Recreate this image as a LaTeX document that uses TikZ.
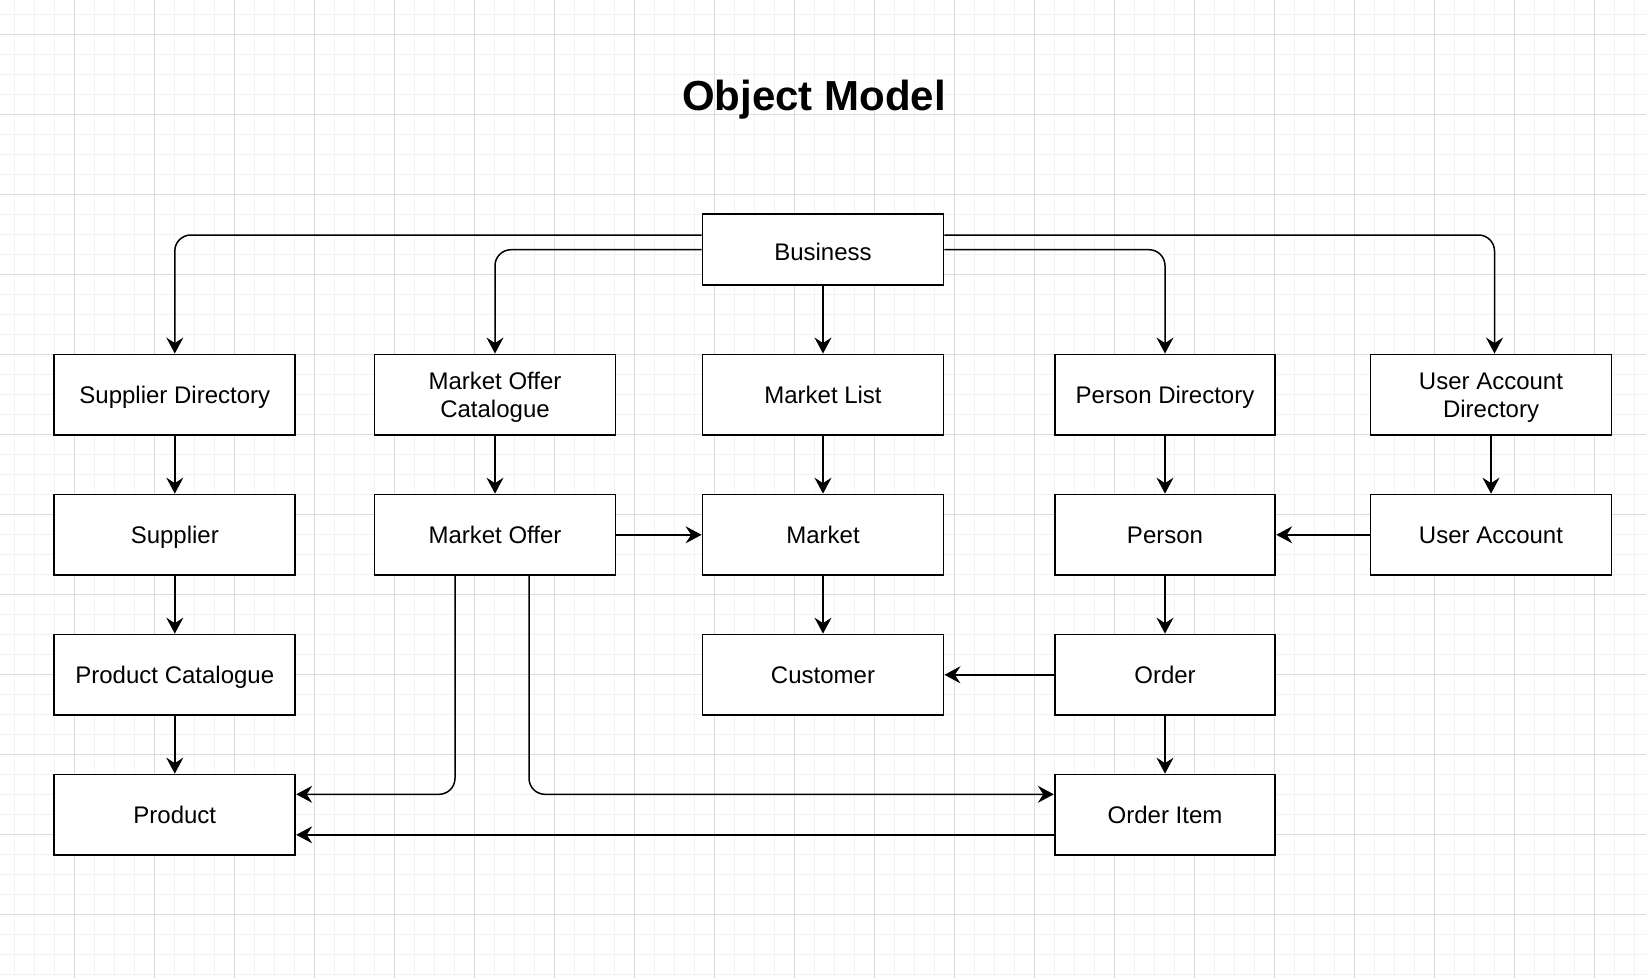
\documentclass[tikz,border=0pt]{standalone}
\usepackage{fontspec}
\setmainfont{Liberation Sans}
\usetikzlibrary{arrows.meta}
\definecolor{gridminor}{HTML}{F2F2F2}
\definecolor{gridmajor}{HTML}{DCDCDC}
\newcommand{\boxline}[1]{\raisebox{0pt}[17.2pt][0pt]{#1}}
\begin{document}
\begin{tikzpicture}[x=1pt,y=-1pt,
  box/.style={draw=black,line width=1.8pt,fill=white,minimum width=241pt,minimum height=80.5pt,inner sep=0pt,align=center,font=\fontsize{24}{28}\selectfont},
  narrowbox/.style={box,minimum width=220.6pt},
  conn/.style={line width=1.5pt,-{Stealth[length=16pt,width=17pt,inset=5.5pt]}},
  elbow/.style={conn,rounded corners=16pt},
  titletext/.style={font=\fontsize{42}{50}\selectfont\bfseries,anchor=base,inner sep=0pt}
]
\fill[white] (0,0) rectangle (1646,978);
\useasboundingbox (0,0) rectangle (1646,978);
% grid
\foreach \i in {0,...,81} \draw[gridminor,line width=1.3pt] (14.3+20*\i,0) -- (14.3+20*\i,978);
\foreach \i in {0,...,48} \draw[gridminor,line width=1.3pt] (0,14.3+20*\i) -- (1646,14.3+20*\i);
\foreach \i in {0,...,19} \draw[gridmajor,line width=1pt] (74.3+80*\i,0) -- (74.3+80*\i,978);
\foreach \i in {0,...,11} \draw[gridmajor,line width=1pt] (0,34.3+80*\i) -- (1646,34.3+80*\i);

% title
\node[titletext] (title) at (814,110.7) {Object Model};

% nodes
\node[box,minimum height=70.7pt] (bus) at (823,249.7) {\raisebox{-2pt}[17.2pt][0pt]{Business}};

\node[box] (sd)  at (174.8,394.7) {\boxline{Supplier Directory}};
\node[box] (moc) at (495,394.7) {\boxline{Market Offer}\\\boxline{Catalogue}};
\node[box] (ml)  at (823,394.7) {\boxline{Market List}};
\node[narrowbox] (pd) at (1165,394.7) {\boxline{Person Directory}};
\node[box] (uad) at (1491,394.7) {\boxline{User Account}\\\boxline{Directory}};

\node[box] (sup) at (174.8,534.8) {\boxline{Supplier}};
\node[box] (mo)  at (495,534.8) {\boxline{Market Offer}};
\node[box] (mkt) at (823,534.8) {\boxline{Market}};
\node[narrowbox] (per) at (1165,534.8) {\boxline{Person}};
\node[box] (ua)  at (1491,534.8) {\boxline{User Account}};

\node[box] (pc)  at (174.8,674.8) {\boxline{Product Catalogue}};
\node[box] (cus) at (823,674.8) {\boxline{Customer}};
\node[narrowbox] (ord) at (1165,674.8) {\boxline{Order}};

\node[box] (prod) at (174.8,814.8) {\boxline{Product}};
\node[narrowbox] (oi) at (1165,814.8) {\boxline{Order Item}};

% connectors from Business
\draw[elbow] ([yshift=14.7pt]bus.west) -| (sd.north);
\draw[elbow] (bus.west) -| (moc.north);
\draw[conn] (bus.south) -- (ml.north);
\draw[elbow] (bus.east) -| (pd.north);
\draw[elbow] ([yshift=14.7pt]bus.east) -| ([xshift=3.5pt]uad.north);

% vertical chains
\draw[conn] (sd.south) -- (sup.north);
\draw[conn] (sup.south) -- (pc.north);
\draw[conn] (pc.south) -- (prod.north);
\draw[conn] (moc.south) -- (mo.north);
\draw[conn] (ml.south) -- (mkt.north);
\draw[conn] (mkt.south) -- (cus.north);
\draw[conn] (pd.south) -- (per.north);
\draw[conn] (per.south) -- (ord.north);
\draw[conn] (ord.south) -- (oi.north);
\draw[conn] (uad.south) -- (ua.north);

% horizontal links
\draw[conn] (mo.east) -- (mkt.west);
\draw[conn] (ua.west) -- (per.east);
\draw[conn] (ord.west) -- (cus.east);
\draw[conn] ([yshift=-20pt]oi.west) -- ([yshift=-20pt]prod.east);

% market offer to product and order item
\draw[elbow] ([xshift=-40pt]mo.south) |- ([yshift=20.5pt]prod.east);
\draw[elbow] ([xshift=34pt]mo.south) |- ([yshift=20.5pt]oi.west);
\end{tikzpicture}
\end{document}
